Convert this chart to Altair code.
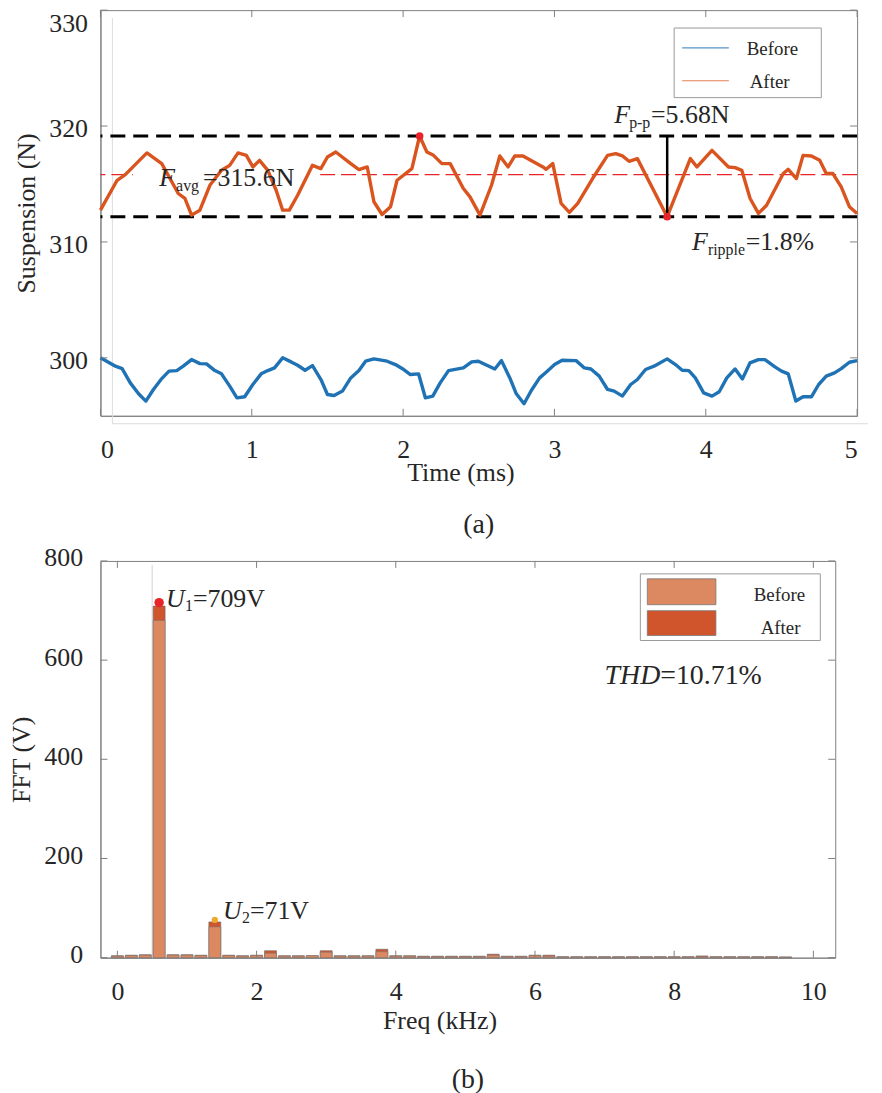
import altair as alt
import pandas as pd

FONT = "Liberation Serif"
TXT = "#262626"
AXC = "#808080"
BLUE = "#1f72b4"
ORANGE = "#d9541e"
RED = "#e8242a"
BEFORE_FILL = "#dc8860"
AFTER_FILL = "#d0552d"
DOT2 = "#f0a92e"

# ---------------- (a) suspension force ----------------
after_t = [0.000, 0.110, 0.164, 0.307, 0.405, 0.514, 0.558, 0.602, 0.657, 0.723, 0.800, 0.854, 0.909, 0.964,
           1.007, 1.051, 1.106, 1.161, 1.204, 1.248, 1.303, 1.401, 1.456, 1.500, 1.555, 1.654, 1.708, 1.763,
           1.807, 1.861, 1.917, 1.960, 2.058, 2.109, 2.157, 2.201, 2.256, 2.311, 2.398, 2.442, 2.508, 2.584,
           2.639, 2.694, 2.738, 2.792, 2.924, 2.945, 2.989, 3.044, 3.099, 3.154, 3.252, 3.351, 3.405, 3.449,
           3.493, 3.548, 3.745, 3.898, 3.942, 4.041, 4.150, 4.194, 4.238, 4.293, 4.348, 4.402, 4.512, 4.545,
           4.599, 4.643, 4.698, 4.753, 4.796, 4.840, 4.895, 4.949, 5.000]
after_v = [312.74, 315.32, 315.81, 317.68, 316.76, 314.18, 313.75, 312.31, 312.74, 314.89, 316.18, 316.61, 317.68, 317.47,
           316.47, 317.04, 316.18, 314.46, 312.74, 312.74, 314.03, 316.61, 316.33, 317.33, 317.76, 316.76, 316.24, 316.47,
           313.47, 312.37, 313.04, 315.32, 316.33, 319.14, 317.76, 317.47, 316.76, 316.76, 314.61, 313.89, 312.31, 314.89,
           317.42, 316.47, 317.42, 317.42, 316.47, 316.27, 316.76, 313.32, 312.55, 313.32, 315.47, 317.47, 317.62, 317.42,
           316.96, 317.19, 312.18, 317.19, 316.47, 317.90, 316.47, 316.41, 316.18, 313.75, 312.46, 313.17, 315.90, 316.27,
           315.47, 317.47, 317.42, 317.04, 315.90, 315.90, 314.75, 313.04, 312.46]
before_t = [0.000, 0.099, 0.143, 0.197, 0.252, 0.300, 0.350, 0.405, 0.453, 0.504, 0.547, 0.602, 0.657, 0.701, 0.756,
            0.800, 0.854, 0.902, 0.953, 1.007, 1.062, 1.106, 1.150, 1.204, 1.260, 1.303, 1.352, 1.401, 1.457, 1.500,
            1.544, 1.599, 1.654, 1.708, 1.752, 1.807, 1.894, 1.949, 2.004, 2.048, 2.102, 2.147, 2.196, 2.245, 2.300,
            2.398, 2.453, 2.497, 2.606, 2.650, 2.705, 2.748, 2.799, 2.847, 2.902, 2.945, 3.001, 3.051, 3.143, 3.198,
            3.241, 3.296, 3.351, 3.395, 3.449, 3.504, 3.548, 3.602, 3.658, 3.745, 3.800, 3.844, 3.888, 3.931, 3.986,
            4.041, 4.089, 4.139, 4.194, 4.242, 4.292, 4.348, 4.391, 4.457, 4.501, 4.545, 4.595, 4.643, 4.698, 4.746,
            4.796, 4.851, 4.895, 4.949, 5.000]
before_v = [300.00, 299.28, 299.07, 297.84, 296.90, 296.27, 297.27, 298.21, 298.85, 298.90, 299.28, 299.85, 299.50, 299.48, 298.90,
            298.62, 297.56, 296.55, 296.64, 297.70, 298.62, 298.90, 299.13, 300.00, 299.65, 299.36, 298.93, 299.33, 298.13, 296.84,
            296.75, 297.13, 298.27, 298.90, 299.71, 299.91, 299.71, 299.42, 298.99, 298.56, 298.62, 296.55, 296.70, 297.84, 298.90,
            299.13, 299.65, 299.71, 299.04, 299.76, 298.27, 296.90, 296.04, 297.18, 298.27, 298.76, 299.42, 299.79, 299.76, 299.13,
            299.04, 298.42, 297.27, 297.13, 296.70, 297.70, 298.13, 298.99, 299.28, 299.91, 299.42, 298.93, 298.90, 298.27, 296.98,
            296.70, 297.07, 298.27, 299.04, 298.18, 299.56, 299.85, 299.85, 299.22, 298.85, 298.62, 296.27, 296.64, 296.64, 297.70,
            298.42, 298.70, 299.07, 299.62, 299.76]
band_lines = [319.14, 312.18]
avg_line = [315.8]
pp_t = [3.745]
pp_lo = [312.18]
pp_hi = [319.14]
mark_t = [2.109, 3.745]
mark_v = [319.14, 312.18]
ticks_a_x = [0, 1, 2, 3, 4, 5]
ticks_a_y = [300, 310, 320, 330]
legend_labels = ["Before", "After"]
# white background box behind the F_avg label (hides the mean line there)
avg_box_t = [0.215, 1.42]
avg_box_v = [315.2, 316.4]

# ---------------- (b) FFT ----------------
freq = [0.0, 0.2, 0.4, 0.6, 0.8, 1.0, 1.2, 1.4, 1.6, 1.8, 2.0, 2.2, 2.4, 2.6, 2.8, 3.0, 3.2, 3.4, 3.6, 3.8,
        4.0, 4.2, 4.4, 4.6, 4.8, 5.0, 5.2, 5.4, 5.6, 5.8, 6.0, 6.2, 6.4, 6.6, 6.8, 7.0, 7.2, 7.4, 7.6, 7.8,
        8.0, 8.2, 8.4, 8.6, 8.8, 9.0, 9.2, 9.4, 9.6]
fft_before = [3, 4, 5, 680, 5, 5, 4, 62, 4, 3, 4, 9, 3, 3, 4, 11, 3, 3, 3, 12,
              3, 3, 2, 2, 2, 2, 2, 5, 2, 2, 4, 3, 1.5, 1.5, 1.5, 1.5, 1.5, 1.5, 1.5, 1.5,
              1.5, 1.5, 2, 1.5, 1.5, 1.5, 1.5, 1.5, 1]
fft_after = [4, 5, 6, 709, 6, 6, 5, 72, 5, 4, 5, 14, 4, 4, 4, 14, 4, 4, 4, 17,
             4, 4, 3, 3, 3, 3, 3, 7, 3, 3, 5, 5, 2, 2, 2, 2, 2, 2, 2, 2,
             2, 2, 3.5, 2, 2, 2, 2, 2, 1.5]
dot_f = [0.6]
dot_u = [716]
dot2_f = [1.4]
dot2_u = [76]
ticks_b_x = [0, 2, 4, 6, 8, 10]
ticks_b_y = [0, 200, 400, 600, 800]

W1, H1 = 761, 408
W2, H2 = 739, 399

# ---------- shared encodings ----------
xa = alt.X("t:Q", scale=alt.Scale(domain=[0, 5], nice=False, zero=False, padding=0),
           axis=alt.Axis(values=ticks_a_x, title="Time (ms)", labelPadding=21, titleY=65,
                         titleX=362, titleBaseline="alphabetic", labelFlush=True))
ya = alt.Y("v:Q", scale=alt.Scale(domain=[295, 330], nice=False, zero=False, padding=0),
           axis=alt.Axis(values=ticks_a_y, title="Suspension (N)", labelPadding=13, titlePadding=9,
                         labelFlush=True,
                         labelOffset={"condition": {"test": "datum.value == 330", "value": 0}, "value": 3}))

xb = alt.X("f:Q", scale=alt.Scale(domain=[-0.243, 10.314], nice=False, zero=False, padding=0),
           axis=alt.Axis(values=ticks_b_x, title="Freq (kHz)", labelPadding=21, titleY=71,
                         titleX=341, titleBaseline="alphabetic", labelFlush=False))
yb = alt.Y("u:Q", scale=alt.Scale(domain=[0, 800], nice=False, zero=False, padding=0),
           axis=alt.Axis(values=ticks_b_y, title="FFT (V)", labelPadding=18, titlePadding=9,
                         labelFlush=False, labelOffset=-3))


def one(d):
    return pd.DataFrame(d)


def piece(xenc, yenc, xf, yf, xv, yv, s, size, dx=0, dy=0, italic=False):
    df = one({xf: [xv], yf: [yv], "s": [s]})
    return alt.Chart(df).mark_text(align="left", baseline="alphabetic", font=FONT, fontSize=size,
                                   fontStyle="italic" if italic else "normal", dx=dx, dy=dy,
                                   color=TXT).encode(x=xenc, y=yenc, text="s:N")


# ---------- chart (a) ----------
df_after = one({"t": after_t, "v": after_v})
df_before = one({"t": before_t, "v": before_v})

ghost_a = alt.Chart(one({"k": [0]})).mark_rule(color="#dcdcdc", strokeWidth=1)
ghost_a1 = ghost_a.encode(x=alt.value(12), y=alt.value(8), y2=alt.value(416))
ghost_a2 = ghost_a.encode(x=alt.value(12), x2=alt.value(772), y=alt.value(416))

bands = alt.Chart(one({"v": band_lines})).mark_rule(color="black", strokeWidth=3, strokeDash=[15, 8]).encode(y=ya)
avg = alt.Chart(one({"v": avg_line})).mark_rule(color=RED, strokeWidth=1.2, strokeDash=[15, 6]).encode(y=ya)
avg_bg = alt.Chart(one({"t": [avg_box_t[0]], "t2": [avg_box_t[1]], "v": [avg_box_v[0]], "v2": [avg_box_v[1]]})
                   ).mark_rect(fill="white").encode(x=xa, x2="t2:Q", y=ya, y2="v2:Q")
line_after = alt.Chart(df_after).mark_line(color=ORANGE, strokeWidth=3.4, strokeJoin="round").encode(x=xa, y=ya)
line_before = alt.Chart(df_before).mark_line(color=BLUE, strokeWidth=3.4, strokeJoin="round").encode(x=xa, y=ya)
pp = alt.Chart(one({"t": pp_t, "v": pp_lo, "v2": pp_hi})).mark_rule(color="black", strokeWidth=2.5).encode(
    x=xa, y=ya, y2="v2:Q")
dots_a = alt.Chart(one({"t": mark_t, "v": mark_v})).mark_circle(color=RED, size=60, opacity=1).encode(x=xa, y=ya)

tk = dict(color=AXC, strokeWidth=1)
tka_x = alt.Chart(one({"t": ticks_a_x}))
tka_y = alt.Chart(one({"v": ticks_a_y}))
ticks_a = [
    tka_x.mark_rule(**tk).encode(x=xa, y=alt.value(H1), y2=alt.value(H1 - 7)),
    tka_x.mark_rule(**tk).encode(x=xa, y=alt.value(0), y2=alt.value(7)),
    tka_y.mark_rule(**tk).encode(y=ya, x=alt.value(0), x2=alt.value(7)),
    tka_y.mark_rule(**tk).encode(y=ya, x=alt.value(W1 - 7), x2=alt.value(W1)),
]

ann_a = [
    piece(xa, ya, "t", "v", 0.388, 314.84, "F", 26, italic=True),
    piece(xa, ya, "t", "v", 0.388, 314.84, "avg", 16, dx=17, dy=5),
    piece(xa, ya, "t", "v", 0.388, 314.84, "=315.6N", 26, dx=44),
    piece(xa, ya, "t", "v", 3.395, 320.28, "F", 26, italic=True),
    piece(xa, ya, "t", "v", 3.395, 320.28, "p-p", 16, dx=15, dy=5),
    piece(xa, ya, "t", "v", 3.395, 320.28, "=5.68N", 26, dx=37),
    piece(xa, ya, "t", "v", 3.909, 309.28, "F", 26, italic=True),
    piece(xa, ya, "t", "v", 3.909, 309.28, "ripple", 16, dx=16, dy=5),
    piece(xa, ya, "t", "v", 3.909, 309.28, "=1.8%", 26, dx=54),
]

leg1 = one({"label": [legend_labels[0]]})
leg2 = one({"label": [legend_labels[1]]})
legend_a = [
    alt.Chart(leg1).mark_rect(fill="white", stroke="#999999", strokeWidth=1).encode(
        x=alt.value(577), x2=alt.value(725), y=alt.value(18), y2=alt.value(88)),
    alt.Chart(leg1).mark_rule(color=BLUE, strokeWidth=1.2, opacity=0.75).encode(
        x=alt.value(585), x2=alt.value(632), y=alt.value(38)),
    alt.Chart(leg2).mark_rule(color=ORANGE, strokeWidth=1.2, opacity=0.75).encode(
        x=alt.value(585), x2=alt.value(632), y=alt.value(71)),
    alt.Chart(leg1).mark_text(align="left", baseline="middle", font=FONT, fontSize=19, color=TXT).encode(
        text="label:N", x=alt.value(650), y=alt.value(39)),
    alt.Chart(leg2).mark_text(align="left", baseline="middle", font=FONT, fontSize=19, color=TXT).encode(
        text="label:N", x=alt.value(653), y=alt.value(72)),
]

chart_a = alt.layer(
    ghost_a1, ghost_a2, bands, avg, avg_bg, line_after, line_before, pp, dots_a, *ticks_a, *ann_a, *legend_a
).properties(
    width=W1, height=H1,
    title=alt.TitleParams(text="(a)", orient="bottom", offset=26, font=FONT, fontSize=28,
                          fontWeight="normal", color=TXT, anchor="middle"),
)

# ---------- chart (b) ----------
df_fa = one({"f": freq, "u": fft_after})
df_fb = one({"f": freq, "u": fft_before})

ghost_b = alt.Chart(one({"k": [0]})).mark_rule(color="#d4d4d4", strokeWidth=1).encode(
    x=alt.value(52), y=alt.value(4), y2=alt.value(H2))
bars_after = alt.Chart(df_fa).mark_bar(size=12, fill=AFTER_FILL, stroke="#6a6a6a", strokeWidth=0.6).encode(
    x=xb, y=yb)
bars_before = alt.Chart(df_fb).mark_bar(size=12, fill=BEFORE_FILL, stroke="#7a7a7a", strokeWidth=0.6).encode(
    x=xb, y=yb)
dot_b1 = alt.Chart(one({"f": dot_f, "u": dot_u})).mark_circle(color=RED, size=90, opacity=1).encode(x=xb, y=yb)
dot_b2 = alt.Chart(one({"f": dot2_f, "u": dot2_u})).mark_circle(color=DOT2, size=40, opacity=1).encode(x=xb, y=yb)

tkb_x = alt.Chart(one({"f": ticks_b_x}))
tkb_y = alt.Chart(one({"u": ticks_b_y}))
ticks_b = [
    tkb_x.mark_rule(**tk).encode(x=xb, y=alt.value(H2), y2=alt.value(H2 - 7)),
    tkb_x.mark_rule(**tk).encode(x=xb, y=alt.value(0), y2=alt.value(7)),
    tkb_y.mark_rule(**tk).encode(y=yb, x=alt.value(0), x2=alt.value(7)),
    tkb_y.mark_rule(**tk).encode(y=yb, x=alt.value(W2 - 7), x2=alt.value(W2)),
]

ann_b = [
    piece(xb, yb, "f", "u", 0.70, 706.7, "U", 26, italic=True),
    piece(xb, yb, "f", "u", 0.70, 706.7, "1", 16, dx=19, dy=4),
    piece(xb, yb, "f", "u", 0.70, 706.7, "=709V", 26, dx=27),
    piece(xb, yb, "f", "u", 1.519, 78.2, "U", 26, italic=True),
    piece(xb, yb, "f", "u", 1.519, 78.2, "2", 16, dx=19, dy=4),
    piece(xb, yb, "f", "u", 1.519, 78.2, "=71V", 26, dx=27),
    piece(xb, yb, "f", "u", 7.0, 552, "THD", 28, italic=True),
    piece(xb, yb, "f", "u", 7.0, 552, "=10.71%", 28, dx=56),
]

legend_b = [
    alt.Chart(leg1).mark_rect(fill="white", stroke="#999999", strokeWidth=1).encode(
        x=alt.value(543), x2=alt.value(724), y=alt.value(13), y2=alt.value(80)),
    alt.Chart(leg1).mark_rect(fill=BEFORE_FILL, stroke="#777777", strokeWidth=0.8).encode(
        x=alt.value(550), x2=alt.value(619), y=alt.value(18), y2=alt.value(44)),
    alt.Chart(leg2).mark_rect(fill=AFTER_FILL, stroke="#777777", strokeWidth=0.8).encode(
        x=alt.value(550), x2=alt.value(619), y=alt.value(50), y2=alt.value(75)),
    alt.Chart(leg1).mark_text(align="left", baseline="middle", font=FONT, fontSize=19, color=TXT).encode(
        text="label:N", x=alt.value(657), y=alt.value(34)),
    alt.Chart(leg2).mark_text(align="left", baseline="middle", font=FONT, fontSize=19, color=TXT).encode(
        text="label:N", x=alt.value(664), y=alt.value(67)),
]

chart_b = alt.layer(
    ghost_b, bars_after, bars_before, dot_b1, dot_b2, *ticks_b, *ann_b, *legend_b
).properties(
    width=W2, height=H2,
    title=alt.TitleParams(text="(b)", orient="bottom", offset=33, font=FONT, fontSize=28,
                          fontWeight="normal", color=TXT, anchor="middle"),
)

chart = alt.vconcat(chart_a, chart_b, spacing=4).properties(
    padding={"left": 0, "top": -2, "right": 5, "bottom": 0}
).configure_axis(
    labelFont=FONT, titleFont=FONT, labelFontSize=26, titleFontSize=26, titleFontWeight="normal",
    labelColor=TXT, titleColor=TXT, domainColor=AXC, domainWidth=1, grid=False, ticks=False,
).configure_view(stroke=AXC, strokeWidth=1).configure_title(font=FONT, color=TXT)

chart.save("out.html", embed_options={"renderer": "svg", "actions": False})
